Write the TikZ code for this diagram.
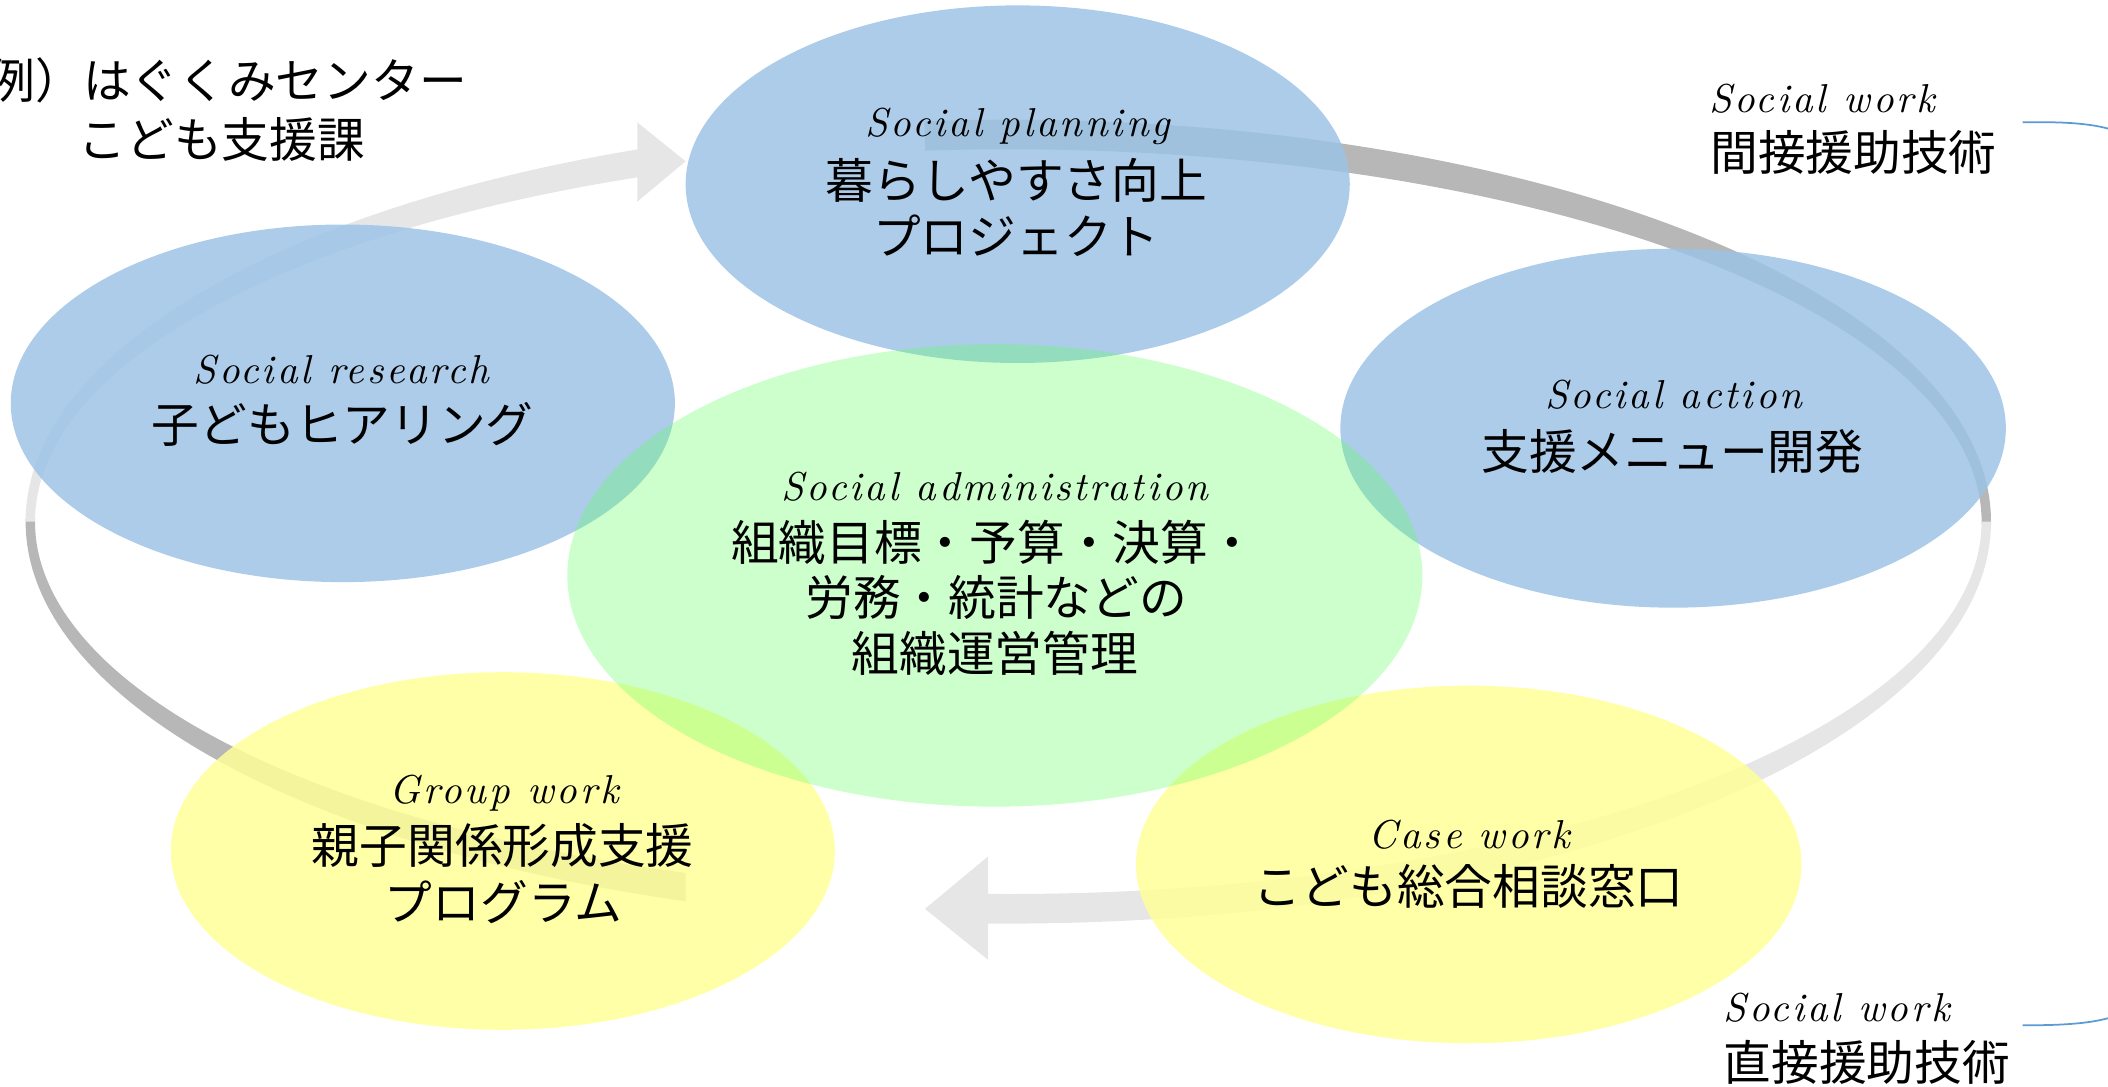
\documentclass[tikz,border=0pt]{standalone}
\usepackage{fontspec}
\newfontfamily\cjk{Noto Sans CJK JP}
\newfontfamily\hand{lmroman10-italic.otf}[LetterSpace=7]
\usetikzlibrary{shapes.geometric}
\definecolor{ringlight}{HTML}{E6E6E6}
\definecolor{ringdark}{HTML}{B7B7B7}
\definecolor{bubblue}{HTML}{9DC3E6}
\definecolor{bubyellow}{HTML}{FFFF99}
\definecolor{bubgreen}{HTML}{66FF66}
\definecolor{linkblue}{HTML}{5B9BD5}
\tikzset{
  bub/.style={ellipse, inner sep=0pt, draw=none, minimum width=494pt, minimum height=266pt},
  bluebub/.style={bub, fill=bubblue, fill opacity=0.85},
  yellowbub/.style={bub, fill=bubyellow, fill opacity=0.85},
  greenbub/.style={bub, fill=bubgreen, fill opacity=0.33},
  jp/.style={font=\cjk\fontsize{35.5}{42}\selectfont, inner sep=0pt, text height=28pt, text depth=2pt},
  hw/.style={font=\hand\fontsize{30}{34}\selectfont, inner sep=0pt, anchor=base},
  linkline/.style={draw=linkblue, line width=1.3pt}
}
\begin{document}
\begin{tikzpicture}[x=1pt,y=-1pt]
\useasboundingbox (0,0) rectangle (1568,808.5);
\clip (0,0) rectangle (1568,808.5);

% ring: arrow 1 (top -> right -> bottom)
\fill[ringdark] plot[domain=265.1:360.4, samples=80] ({750+731*cos(\x)},{388+299*sin(\x)})
  -- plot[domain=360.4:265.1, samples=80] ({750+724*cos(\x)},{388+277*sin(\x)}) -- cycle;
\fill[ringlight] plot[domain=0:91.18, samples=80] ({750+731*cos(\x)},{388+299*sin(\x)})
  -- (735,714) -- (688,676) -- (735,637)
  -- plot[domain=91.19:0, samples=80] ({750+724*cos(\x)},{388+277*sin(\x)}) -- cycle;
% ring: arrow 2 (bottom -> left -> top)
\fill[ringdark] plot[domain=109.17:180.4, samples=80] ({750+731*cos(\x)},{388+299*sin(\x)})
  -- plot[domain=180.4:109.36, samples=80] ({750+724*cos(\x)},{388+277*sin(\x)}) -- cycle;
\fill[ringlight] plot[domain=180:247.82, samples=80] ({750+731*cos(\x)},{388+299*sin(\x)})
  -- (474,91) -- (510,120) -- (474,150)
  -- plot[domain=247.59:180, samples=80] ({750+724*cos(\x)},{388+277*sin(\x)}) -- cycle;

% bubbles
\node[bluebub] (planning) at (757,137) {};
\node[bluebub] (research) at (255,300) {};
\node[bluebub, minimum width=495pt, minimum height=267pt] (action) at (1244.5,318.5) {};
\node[yellowbub] (group) at (374,633) {};
\node[yellowbub, minimum width=495pt] (case) at (1092.5,643) {};
\node[greenbub, minimum width=636pt, minimum height=344pt] (admin) at (740,428) {};

% thin blue lines at right
\coordinate (lt1) at (1504.5,91);
\coordinate (lt2) at (1571,96.5);
\draw[linkline] (lt1) .. controls (1540,90.3) and (1558,92.5) .. (lt2);
\coordinate (lb1) at (1504.5,762.6);
\coordinate (lb2) at (1571,756.5);
\draw[linkline] (lb1) .. controls (1540,762.8) and (1558,760.5) .. (lb2);

% texts
\node[jp] (ex1) at (169,60) {例）はぐくみセンター};
\node[jp] (ex2) at (165,104) {こども支援課};

\node[hw] (plh) at (757,101.7) {Social planning};
\node[jp] (pl1) at (756,135) {暮らしやすさ向上};
\node[jp] (pl2) at (756,176.6) {プロジェクト};

\node[hw] (reh) at (254,285) {Social research};
\node[jp] (re1) at (255,316) {子どもヒアリング};

\node[hw] (ach) at (1245,304) {Social action};
\node[jp] (ac1) at (1244,336) {支援メニュー開発};

\node[hw] (adh) at (740,372) {Social administration};
\node[jp] (ad1) at (739,403.6) {組織目標・予算・決算・};
\node[jp] (ad2) at (741,445) {労務・統計などの};
\node[jp] (ad3) at (740,486.7) {組織運営管理};

\node[hw] (grh) at (375,597.6) {Group work};
\node[jp] (gr1) at (374,629.5) {親子関係形成支援};
\node[jp] (gr2) at (374.5,672) {プログラム};

\node[hw] (cah) at (1093,631) {Case work};
\node[jp] (ca1) at (1092.5,660) {こども総合相談窓口};

\node[hw, anchor=base west] (sw1) at (1271,84) {Social work};
\node[jp, anchor=west] (ind) at (1272,114) {間接援助技術};
\node[hw, anchor=base west] (sw2) at (1282,760) {Social work};
\node[jp, anchor=west] (dir) at (1282,790.5) {直接援助技術};
\end{tikzpicture}
\end{document}
